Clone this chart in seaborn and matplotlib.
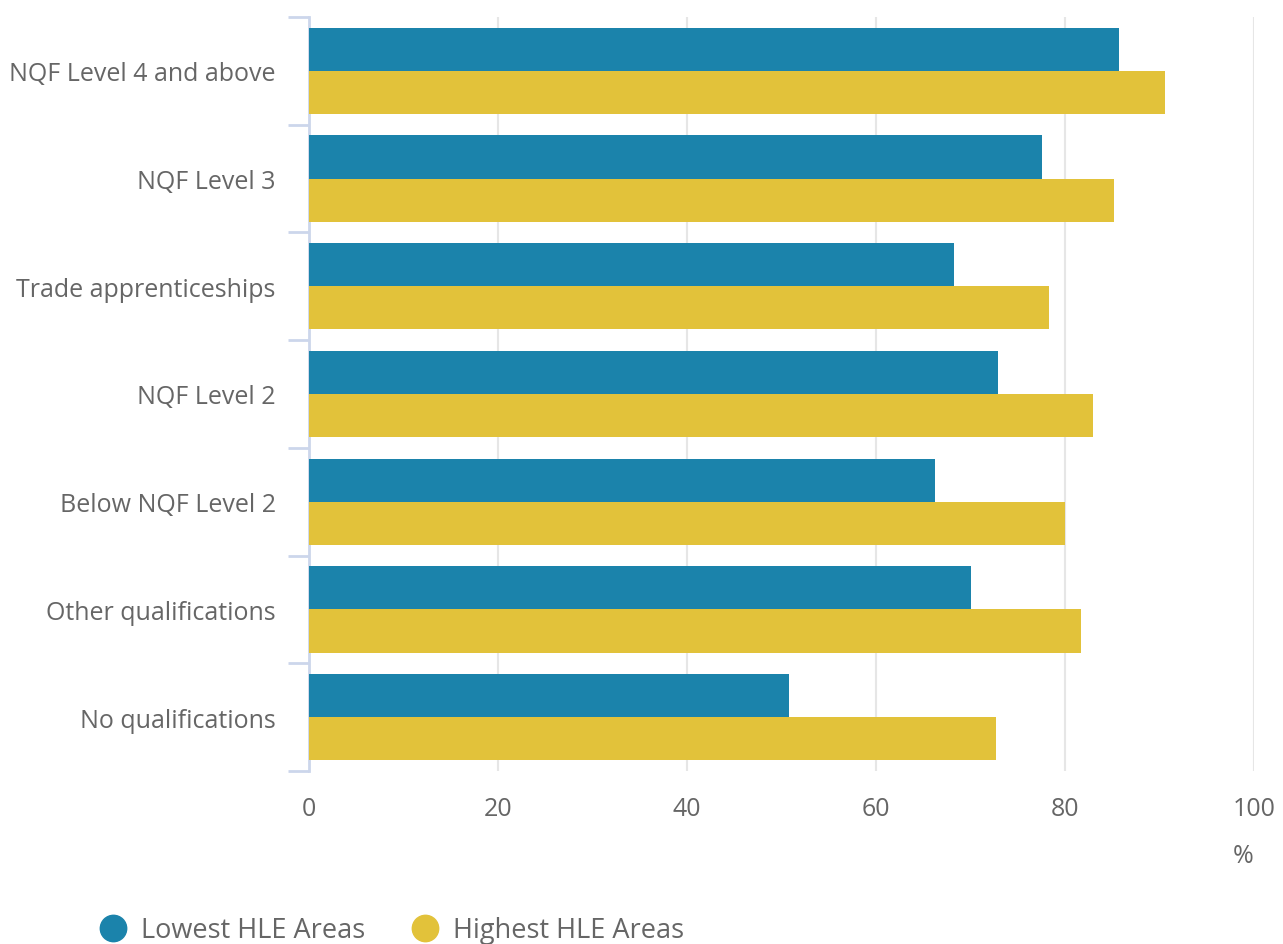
import numpy as np
import pandas as pd
import seaborn as sns
import matplotlib.pyplot as plt
from matplotlib.lines import Line2D
from matplotlib.ticker import FixedLocator

categories = ["NQF Level 4 and above", "NQF Level 3", "Trade apprenticeships",
              "NQF Level 2", "Below NQF Level 2", "Other qualifications",
              "No qualifications"]
lowest = [85.7, 77.6, 68.3, 72.9, 66.2, 70.0, 50.8]
highest = [90.6, 85.2, 78.3, 83.0, 80.0, 81.7, 72.7]
series = ["Lowest HLE Areas", "Highest HLE Areas"]
colors = ["#1b83ab", "#e2c23a"]

df = pd.DataFrame({
    "category": categories * 2,
    "value": lowest + highest,
    "series": [series[0]] * len(categories) + [series[1]] * len(categories),
})

sns.set_theme(style="white")
plt.rcParams["font.family"] = ["Open Sans", "DejaVu Sans"]
text_col = "#666666"

fig = plt.figure(figsize=(12.83, 9.45), dpi=100)
ax = fig.add_axes([309 / 1283, 1 - 772 / 945, (1254 - 309) / 1283, (772 - 18) / 945])

sns.barplot(data=df, y="category", x="value", hue="series", order=categories,
            hue_order=series, palette=colors, orient="h", width=0.8,
            saturation=1, legend=False, ax=ax, zorder=3, linewidth=0)

ax.set_xlim(0, 100)
ax.set_ylim(len(categories) - 0.5, -0.5)
ax.set_xticks([0, 20, 40, 60, 80, 100])
ax.xaxis.grid(True, color="#e6e6e6", linewidth=1.5, zorder=0)
ax.set_axisbelow(True)
for s in ["top", "right", "bottom"]:
    ax.spines[s].set_visible(False)
ax.spines["left"].set_color("#ccd6eb")
ax.spines["left"].set_linewidth(2)

ax.yaxis.set_minor_locator(FixedLocator(np.arange(-0.5, len(categories), 1.0)))
ax.tick_params(axis="y", which="major", length=0, pad=24, labelsize=18, labelcolor=text_col)
ax.tick_params(axis="y", which="minor", length=15, width=2, color="#ccd6eb", left=True)
ax.tick_params(axis="x", length=0, pad=18, labelsize=18, labelcolor=text_col)
ax.set_ylabel("")
ax.set_xlabel("%", color=text_col, fontsize=18, loc="right", labelpad=16)

handles = [Line2D([], [], marker="o", linestyle="", markersize=19, color=c) for c in colors]
fig.legend(handles, series, loc="lower left", bbox_to_anchor=(62 / 1283, -0.026),
           ncol=2, frameon=False, fontsize=19.5, labelcolor=text_col,
           handletextpad=0.03, columnspacing=1.2)

fig.savefig("out.png", dpi=100)
